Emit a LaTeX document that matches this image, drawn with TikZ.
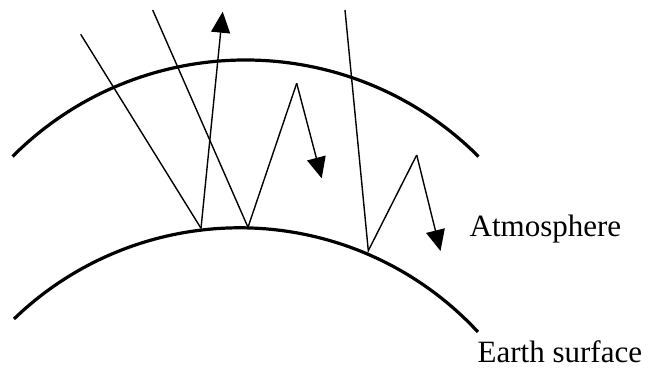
\documentclass[tikz,border=0pt]{standalone}
\usepackage{fontspec}
\setmainfont{Liberation Serif}
\usetikzlibrary{arrows.meta}
\begin{document}
\begin{tikzpicture}[x=1pt,y=1pt,
  layer/.style={line width=3.2pt},
  ray/.style={line width=1.4pt, line join=miter},
  rayarrow/.style={ray, -{Triangle[length=21pt,width=19pt]}},
  label/.style={inner sep=0pt, anchor=base west, font=\fontsize{31}{36}\selectfont}]
\useasboundingbox (0,0) rectangle (651,372);
% circle centres
\coordinate (c1) at (245.5,-17.5);
\coordinate (c2) at (239.6,-180.6);
% atmosphere and earth surface
\draw[layer] (c1) ++(135:329.5pt) arc[start angle=135,end angle=45,radius=329.5pt];
\draw[layer] (c2) ++(134:324.8pt) arc[start angle=134,end angle=42.8,radius=324.8pt];
% ray points
\coordinate (s1) at (80.7,337.7);
\coordinate (g1) at (201,143.7);
\coordinate (t1) at (222.7,360.3);
\coordinate (s2) at (152.7,362);
\coordinate (g2) at (248,144.7);
\coordinate (p2) at (296.7,288.7);
\coordinate (t2) at (321.7,193.7);
\coordinate (s3) at (345,362);
\coordinate (g3) at (368.3,121.3);
\coordinate (p3) at (416.7,217);
\coordinate (t3) at (440.5,121);
% rays
\draw[ray] (s1) -- (g1);
\draw[rayarrow] (g1) -- (t1);
\draw[ray] (s2) -- (g2) -- (p2);
\draw[rayarrow] (p2) -- (t2);
\draw[ray] (s3) -- (g3) -- (p3);
\draw[rayarrow] (p3) -- (t3);
% labels
\node[label] (atm) at (469.5,135) {Atmosphere};
\node[label] (earth) at (477.5,9) {Earth surface};
\end{tikzpicture}
\end{document}
